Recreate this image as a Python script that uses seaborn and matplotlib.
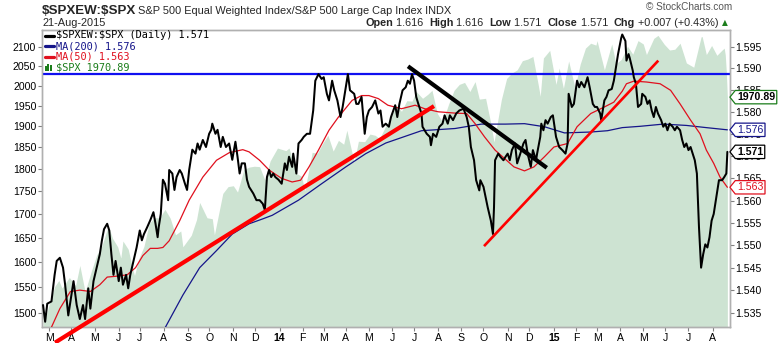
import numpy as np
import matplotlib
matplotlib.use("Agg")
import matplotlib.pyplot as plt
import matplotlib.transforms as mtransforms
import seaborn as sns
from matplotlib.path import Path
from matplotlib.lines import Line2D
from matplotlib.patches import Rectangle
from matplotlib.ticker import FixedLocator, NullLocator, FixedFormatter

sns.set_theme(style="white")
plt.rcParams['font.family'] = ['Liberation Sans', 'DejaVu Sans']

# ---------------- data ----------------
ORIGIN = '2013-02-21'   # session 0 (weekday count from this date)

ratio_session = [
    0, 2, 4, 8, 11, 13, 16, 19, 21, 24,
    27, 29, 32, 35, 38, 40, 43, 45, 48, 51,
    54, 56, 58, 61, 63, 65, 67, 69, 72, 74,
    76, 79, 81, 83, 86, 89, 92, 94, 96, 99,
    102, 105, 107, 109, 110, 112, 114, 116, 119, 120,
    123, 125, 127, 130, 132, 135, 137, 139, 142, 145,
    147, 149, 152, 155, 158, 160, 161, 164, 166, 169,
    171, 174, 177, 180, 183, 185, 187, 189, 192, 194,
    196, 200, 203, 206, 209, 211, 213, 215, 217, 219,
    221, 224, 227, 230, 232, 234, 237, 238, 241, 243,
    246, 248, 251, 254, 257, 259, 262, 265, 267, 270,
    272, 275, 277, 280, 283, 285, 288, 290, 292, 296,
    298, 300, 303, 306, 308, 310, 313, 316, 319, 321,
    323, 326, 329, 331, 335, 337, 339, 342, 345, 347,
    349, 351, 353, 355, 357, 360, 361, 365, 368, 369,
    371, 374, 377, 380, 382, 385, 387, 390, 393, 396,
    400, 403, 405, 407, 410, 412, 415, 416, 419, 421,
    423, 426, 428, 429, 430, 433, 435, 438, 440, 442,
    444, 446, 449, 451, 454, 457, 459, 461, 464, 466,
    469, 470, 473, 474, 476, 478, 480, 483, 485, 488,
    491, 494, 497, 499, 500, 503, 505, 508, 510, 512,
    515, 518, 520, 523, 525, 527, 530, 531, 534, 536,
    538, 541, 543, 545, 547, 550, 551, 554, 555, 557,
    558, 561, 562, 564, 566, 569, 570, 573, 575, 577,
    579, 581, 583, 585, 588, 590, 592, 594, 596, 599,
    601, 603, 606, 608, 610, 612, 614, 616, 618, 620,
    622, 624, 626, 628, 630, 632, 634, 636, 638, 641, 643, 646, 648, 650, 651]
ratio_close = [
    1.5367, 1.5330, 1.5370, 1.5375, 1.5434, 1.5465, 1.5472, 1.5450, 1.5412, 1.5344,
    1.5389, 1.5420, 1.5367, 1.5336, 1.5367, 1.5336, 1.5404, 1.5359, 1.5420, 1.5450,
    1.5480, 1.5511, 1.5536, 1.5548, 1.5533, 1.5480, 1.5434, 1.5465, 1.5420, 1.5450,
    1.5412, 1.5434, 1.5404, 1.5434, 1.5465, 1.5495, 1.5533, 1.5511, 1.5525, 1.5540,
    1.5556, 1.5574, 1.5548, 1.5518, 1.5540, 1.5570, 1.5647, 1.5638, 1.5601, 1.5669,
    1.5661, 1.5624, 1.5653, 1.5669, 1.5661, 1.5638, 1.5624, 1.5669, 1.5715, 1.5706,
    1.5729, 1.5715, 1.5737, 1.5721, 1.5751, 1.5760, 1.5774, 1.5751, 1.5760, 1.5721,
    1.5744, 1.5721, 1.5729, 1.5692, 1.5733, 1.5699, 1.5661, 1.5684, 1.5684, 1.5647,
    1.5631, 1.5616, 1.5601, 1.5601, 1.5593, 1.5579, 1.5653, 1.5669, 1.5653, 1.5661,
    1.5653, 1.5647, 1.5638, 1.5684, 1.5669, 1.5699, 1.5676, 1.5706, 1.5661, 1.5729,
    1.5737, 1.5744, 1.5751, 1.5751, 1.5804, 1.5872, 1.5887, 1.5876, 1.5880, 1.5842,
    1.5827, 1.5872, 1.5850, 1.5827, 1.5789, 1.5812, 1.5857, 1.5887, 1.5850, 1.5842,
    1.5819, 1.5819, 1.5835, 1.5751, 1.5789, 1.5804, 1.5812, 1.5827, 1.5797, 1.5804,
    1.5767, 1.5774, 1.5767, 1.5789, 1.5816, 1.5789, 1.5819, 1.5850, 1.5857, 1.5872,
    1.5865, 1.5887, 1.5872, 1.5835, 1.5819, 1.5797, 1.5767, 1.5751, 1.5744, 1.5725,
    1.5751, 1.5744, 1.5767, 1.5774, 1.5793, 1.5774, 1.5793, 1.5782, 1.5797, 1.5804,
    1.5808, 1.5789, 1.5767, 1.5721, 1.5691, 1.5646, 1.5623, 1.5646, 1.5631, 1.5608,
    1.5585, 1.5555, 1.5525, 1.5585, 1.5691, 1.5706, 1.5699, 1.5691, 1.5699, 1.5706,
    1.5691, 1.5714, 1.5729, 1.5684, 1.5706, 1.5729, 1.5737, 1.5706, 1.5676, 1.5714,
    1.5691, 1.5706, 1.5744, 1.5774, 1.5759, 1.5782, 1.5774, 1.5789, 1.5793, 1.5744,
    1.5721, 1.5714, 1.5706, 1.5729, 1.5842, 1.5812, 1.5819, 1.5872, 1.5857, 1.5869,
    1.5857, 1.5880, 1.5857, 1.5819, 1.5812, 1.5812, 1.5797, 1.5782, 1.5827, 1.5835,
    1.5850, 1.5853, 1.5872, 1.5902, 1.5933, 1.5970, 1.5978, 1.5963, 1.5918, 1.5933,
    1.5925, 1.5895, 1.5880, 1.5865, 1.5812, 1.5819, 1.5842, 1.5835, 1.5819, 1.5827,
    1.5804, 1.5789, 1.5812, 1.5797, 1.5782, 1.5767, 1.5774, 1.5759, 1.5774, 1.5767,
    1.5759, 1.5767, 1.5759, 1.5737, 1.5721, 1.5729, 1.5714, 1.5721, 1.5706, 1.5691,
    1.5661, 1.5540, 1.5450, 1.5480, 1.5502, 1.5495, 1.5518, 1.5555, 1.5570, 1.5616,
    1.5646, 1.5646, 1.5653, 1.5661, 1.5710]

ma200_session = [115, 133, 149, 165, 180, 196, 209, 218, 243, 265,
                 288, 307, 326, 360, 392, 417, 440, 458, 477, 496,
                 521, 537, 551, 568, 590, 612, 631, 651]
ma200_value = [1.5312, 1.5389, 1.5450, 1.5488, 1.5525, 1.5548, 1.5559, 1.5567, 1.5601, 1.5638,
               1.5676, 1.5706, 1.5730, 1.5758, 1.5763, 1.5773, 1.5773, 1.5774, 1.5767, 1.5753,
               1.5755, 1.5758, 1.5765, 1.5768, 1.5773, 1.5770, 1.5765, 1.5760]

ma50_session = [8, 16, 26, 35, 45, 54, 61, 70, 80, 88,
                95, 102, 109, 114, 120, 130, 139, 152, 165, 177,
                190, 196, 206, 215, 220, 227, 237, 245, 253, 262,
                272, 281, 294, 303, 310, 319, 328, 341, 354, 363,
                376, 392, 403, 411, 420, 430, 439, 448, 458, 467,
                477, 486, 499, 508, 521, 534, 543, 551, 555, 562,
                574, 587, 597, 606, 616, 625, 631, 638, 644, 651]
ma50_value = [1.5318, 1.5359, 1.5397, 1.5400, 1.5397, 1.5412, 1.5429, 1.5431, 1.5434, 1.5450,
              1.5477, 1.5493, 1.5493, 1.5495, 1.5510, 1.5555, 1.5601, 1.5653, 1.5691, 1.5708,
              1.5715, 1.5710, 1.5691, 1.5669, 1.5661, 1.5650, 1.5642, 1.5646, 1.5676, 1.5714,
              1.5759, 1.5789, 1.5827, 1.5838, 1.5838, 1.5831, 1.5816, 1.5808, 1.5816, 1.5808,
              1.5801, 1.5798, 1.5797, 1.5774, 1.5744, 1.5714, 1.5695, 1.5676, 1.5667, 1.5676,
              1.5699, 1.5721, 1.5729, 1.5767, 1.5797, 1.5812, 1.5823, 1.5848, 1.5865, 1.5871,
              1.5869, 1.5865, 1.5850, 1.5819, 1.5782, 1.5751, 1.5714, 1.5684, 1.5653, 1.5630]

spx_dates = [
    '2013-02-21', '2013-02-25', '2013-03-01', '2013-03-08', '2013-03-14', '2013-03-19', '2013-03-28', '2013-04-05', '2013-04-11', '2013-04-18',
    '2013-04-26', '2013-05-03', '2013-05-10', '2013-05-17', '2013-05-21', '2013-05-24', '2013-05-31', '2013-06-05', '2013-06-07', '2013-06-14',
    '2013-06-20', '2013-06-24', '2013-06-28', '2013-07-05', '2013-07-12', '2013-07-19', '2013-07-26', '2013-08-02', '2013-08-09', '2013-08-16',
    '2013-08-23', '2013-08-27', '2013-09-06', '2013-09-13', '2013-09-18', '2013-09-27', '2013-10-04', '2013-10-08', '2013-10-18', '2013-10-25',
    '2013-11-01', '2013-11-07', '2013-11-15', '2013-11-22', '2013-11-29', '2013-12-06', '2013-12-13', '2013-12-20', '2013-12-31',
    '2014-01-10', '2014-01-15', '2014-01-24', '2014-01-31', '2014-02-05', '2014-02-14', '2014-02-21', '2014-02-28', '2014-03-07', '2014-03-14',
    '2014-03-21', '2014-03-28', '2014-04-02', '2014-04-11', '2014-04-17', '2014-04-25', '2014-05-02', '2014-05-09', '2014-05-15', '2014-05-23',
    '2014-05-30', '2014-06-06', '2014-06-13', '2014-06-20', '2014-06-27', '2014-07-03', '2014-07-11', '2014-07-18', '2014-07-24', '2014-07-31',
    '2014-08-07', '2014-08-15', '2014-08-22', '2014-08-29', '2014-09-05', '2014-09-12', '2014-09-19', '2014-09-25', '2014-10-03', '2014-10-10',
    '2014-10-15', '2014-10-24', '2014-10-31', '2014-11-07', '2014-11-14', '2014-11-21', '2014-11-28', '2014-12-05', '2014-12-12', '2014-12-16',
    '2014-12-19', '2014-12-29',
    '2015-01-06', '2015-01-09', '2015-01-15', '2015-01-22', '2015-01-30', '2015-02-06', '2015-02-13', '2015-02-20', '2015-02-27', '2015-03-02',
    '2015-03-11', '2015-03-20', '2015-03-26', '2015-04-02', '2015-04-10', '2015-04-17', '2015-04-24', '2015-05-01', '2015-05-06', '2015-05-15',
    '2015-05-21', '2015-05-29', '2015-06-05', '2015-06-12', '2015-06-19', '2015-06-29', '2015-07-08', '2015-07-17', '2015-07-20', '2015-07-24',
    '2015-07-31', '2015-08-07', '2015-08-14', '2015-08-18', '2015-08-19', '2015-08-20', '2015-08-21']
spx_close = [
    1502, 1488, 1518, 1551, 1563, 1548, 1569, 1553, 1593, 1541,
    1582, 1614, 1633, 1667, 1669, 1649, 1631, 1608, 1643, 1626,
    1588, 1573, 1606, 1632, 1680, 1692, 1692, 1710, 1691, 1656,
    1664, 1631, 1655, 1688, 1725, 1692, 1690, 1656, 1745, 1760,
    1762, 1748, 1798, 1804, 1806, 1805, 1775, 1818, 1848,
    1842, 1848, 1790, 1783, 1751, 1838, 1836, 1859, 1878, 1841,
    1866, 1857, 1890, 1815, 1864, 1863, 1881, 1878, 1870, 1900,
    1924, 1950, 1936, 1962, 1961, 1985, 1968, 1978, 1988, 1931,
    1910, 1955, 1988, 2003, 2008, 1985, 2010, 1966, 1968, 1906,
    1862, 1965, 2018, 2032, 2040, 2064, 2068, 2075, 2003, 1973,
    2071, 2091,
    2003, 2045, 1993, 2063, 1995, 2055, 2097, 2110, 2105, 2117,
    2040, 2108, 2056, 2067, 2102, 2081, 2117, 2108, 2080, 2123,
    2131, 2107, 2092, 2094, 2110, 2058, 2047, 2127, 2128, 2080,
    2104, 2078, 2092, 2097, 2079, 2035, 1970.89]

# user-drawn annotation lines (session, ratio) and the horizontal level
trend_start_session = [11.4, 347.2, 419.5]
trend_start_ratio = [1.5284, 1.5905, 1.5498]
trend_end_session = [371.9, 479.2, 585.3]
trend_end_ratio = [1.5814, 1.5674, 1.5918]
trend_colors = ['#ff0000', '#000000', '#ff0000']
trend_widths = [3.0, 3.0, 1.9]
level_ratio = 1.5888

month_dates = ['2013-03-01', '2013-04-01', '2013-05-01', '2013-06-03', '2013-07-01', '2013-08-01',
               '2013-09-03', '2013-10-01', '2013-11-01', '2013-12-02', '2014-01-02', '2014-02-03',
               '2014-03-03', '2014-04-01', '2014-05-01', '2014-06-02', '2014-07-01', '2014-08-01',
               '2014-09-02', '2014-10-01', '2014-11-03', '2014-12-01', '2015-01-02', '2015-02-02',
               '2015-03-02', '2015-04-01', '2015-05-01', '2015-06-01', '2015-07-01', '2015-08-03']
month_labels = ['M', 'A', 'M', 'J', 'J', 'A', 'S', 'O', 'N', 'D', '14', 'F',
                'M', 'A', 'M', 'J', 'J', 'A', 'S', 'O', 'N', 'D', '15', 'F',
                'M', 'A', 'M', 'J', 'J', 'A']

spx_ticks = [1500, 1550, 1600, 1650, 1700, 1750, 1800, 1850, 1900, 1950, 2000, 2050, 2100]
ratio_ticks = [1.535, 1.540, 1.545, 1.550, 1.555, 1.560, 1.565, 1.570, 1.575, 1.580, 1.585, 1.590, 1.595]

legend_labels = [r'\$SPXEW:\$SPX (Daily) 1.571', 'MA(200) 1.576', 'MA(50) 1.563', r'\$SPX 1970.89']

# ---------------- figure ----------------
W, H = 778, 343
fig = plt.figure(figsize=(W / 100, H / 100), dpi=100)
fig.patch.set_facecolor('white')
ax = fig.add_axes([42 / W, 1 - 327 / H, (730 - 42) / W, (327 - 30) / H])
ax2 = ax.twinx()

GREEN_FILL = '#cde3d2'
NAVY = '#15158a'
RED = '#e0101e'
DKGREEN = '#1b7d1b'
SPINE = '#b0b0b0'


def fx(px):
    return px / W


def fy(py):
    return 1 - py / H


# SPX area (left log axis)
spx_x = np.busday_count(ORIGIN, np.array(spx_dates, dtype='datetime64[D]'))
ax.fill_between(spx_x, spx_close, 1400, color=GREEN_FILL, lw=0, zorder=1)
ax.set_yscale('log')
ax.set_ylim(1473.7, 2145.6)
ax.set_xlim(-1, 653.5)

# ratio lines (right log axis)
ax2.set_yscale('log')
ax2.axhline(level_ratio, color='#1010f0', lw=1.6, zorder=2)
sns.lineplot(x=ma200_session, y=ma200_value, ax=ax2, color=NAVY, lw=0.9, estimator=None, sort=False, zorder=3)
sns.lineplot(x=ma50_session, y=ma50_value, ax=ax2, color=RED, lw=0.9, estimator=None, sort=False, zorder=3)
sns.lineplot(x=ratio_session, y=ratio_close, ax=ax2, color='black', lw=1.45, estimator=None, sort=False, zorder=4)
for xs, ys, xe, ye, c, w in zip(trend_start_session, trend_start_ratio, trend_end_session,
                                trend_end_ratio, trend_colors, trend_widths):
    ax2.plot([xs, xe], [ys, ye], color=c, lw=w, solid_capstyle='butt', clip_on=False, zorder=5)
ax2.set_ylim(1.53184, 1.59884)
ax2.set_xlim(-1, 653.5)

# ticks
for a in (ax, ax2):
    a.yaxis.set_minor_locator(NullLocator())
    for s in a.spines.values():
        s.set_color(SPINE)
        s.set_linewidth(1.0)
ax.yaxis.set_major_locator(FixedLocator(spx_ticks))
ax.yaxis.set_major_formatter(FixedFormatter([str(v) for v in spx_ticks]))
ax2.yaxis.set_major_locator(FixedLocator(ratio_ticks))
ax2.yaxis.set_major_formatter(FixedFormatter(['%.3f' % v for v in ratio_ticks]))
ax.tick_params(axis='y', which='major', left=True, right=False, length=3, width=0.8,
               color='#808080', pad=1.2, labelsize=7.6, labelcolor='black')
ax2.tick_params(axis='y', which='major', right=True, left=False, length=3, width=0.8,
                color='#808080', pad=1.0, labelsize=7.6, labelcolor='black')
month_x = np.busday_count(ORIGIN, np.array(month_dates, dtype='datetime64[D]'))
ax.set_xticks(month_x)
ax.set_xticklabels(month_labels)
ax.tick_params(axis='x', bottom=True, length=3, width=0.8, color='#808080', pad=1.0,
               labelsize=7.6, labelcolor='black')
for t in ax.get_xticklabels():
    if t.get_text() in ('14', '15'):
        t.set_fontweight('bold')
for a in (ax, ax2):
    a.set_xlabel('')
    a.set_ylabel('')
    a.grid(False)

# legend (top-left, StockCharts style)
legend_colors = ['black', NAVY, RED, DKGREEN]
for i, (lab, col) in enumerate(zip(legend_labels, legend_colors)):
    yc = 35.5 + i * 10.7
    if i < 3:
        fig.add_artist(Line2D([fx(44.5), fx(53.5)], [fy(yc), fy(yc)], color=col, lw=2.3,
                              transform=fig.transFigure, zorder=20))
    else:
        for bx, bh in zip([44.5, 47.3, 50.1], [5.0, 7.5, 6.0]):
            fig.add_artist(Rectangle((fx(bx), fy(yc + 3.5)), 2.2 / W, bh / H, color=col,
                                     transform=fig.transFigure, zorder=20, lw=0))
    fig.text(fx(56), fy(yc), lab, color=col, fontsize=7.4, family='DejaVu Sans Mono',
             va='center', ha='left', zorder=21)

# value tags on the right
def tag_shape(x0, y0, width, height, mutation_scale):
    p = 0.16 * mutation_scale
    x0 -= p
    y0 -= p
    width += 2 * p
    height += 2 * p
    tip = height * 0.4
    verts = [(x0, y0), (x0 + width, y0), (x0 + width, y0 + height), (x0, y0 + height),
             (x0 - tip, y0 + height / 2), (x0, y0)]
    codes = [Path.MOVETO] + [Path.LINETO] * 4 + [Path.CLOSEPOLY]
    return Path(verts, codes)


spx_tr = mtransforms.blended_transform_factory(ax2.transAxes, ax.transData)
ratio_tr = mtransforms.blended_transform_factory(ax2.transAxes, ax2.transData)
tags = [(spx_tr, spx_close[-1], '1970.89', DKGREEN, 'black', 'bold'),
        (ratio_tr, ma200_value[-1], '1.576', NAVY, NAVY, 'normal'),
        (ratio_tr, ratio_close[-1], '1.571', 'black', 'black', 'bold'),
        (ratio_tr, ma50_value[-1], '1.563', RED, RED, 'normal')]
for tr, val, txt, ec, tc, fw in tags:
    ax2.annotate(txt, xy=(1.0, val), xycoords=tr, xytext=(5.0, 0), textcoords='offset points',
                 ha='left', va='center', fontsize=7.6, fontweight=fw, color=tc,
                 bbox=dict(boxstyle=tag_shape, fc='white', ec=ec, lw=0.9),
                 annotation_clip=False, zorder=30)

# header
fig.text(fx(42), fy(14), r'\$SPXEW:\$SPX', fontsize=9.6, fontweight='bold', va='baseline', ha='left')
fig.text(fx(138), fy(14), 'S&P 500 Equal Weighted Index/S&P 500 Large Cap Index INDX',
         fontsize=7.9, va='baseline', ha='left')
fig.text(fx(42.5), fy(26.5), '21-Aug-2015', fontsize=7.9, va='baseline', ha='left')
fig.text(fx(732), fy(10), '\u00a9 StockCharts.com', fontsize=7.2, va='baseline', ha='right',
         color='#555555')

parts = [('Open', 'bold'), (' 1.616  ', 'normal'), ('High', 'bold'), (' 1.616  ', 'normal'),
         ('Low', 'bold'), (' 1.571  ', 'normal'), ('Close', 'bold'), (' 1.571  ', 'normal'),
         ('Chg', 'bold'), (' +0.007 (+0.43%) ', 'normal')]
prev = fig.text(fx(365), fy(28.5), parts[0][0], fontsize=7.8, fontweight=parts[0][1],
                va='bottom', ha='left')
for txt, fw in parts[1:]:
    prev = ax.annotate(txt, xy=(1, 0), xycoords=prev, xytext=(0, 0),
                       textcoords='offset points', fontsize=7.8,
                       fontweight=fw, va='bottom', ha='left', annotation_clip=False)
ax.annotate('\u25b2', xy=(1, 0.15), xycoords=prev, fontsize=5.5, color='#1b7d1b', va='bottom',
            ha='left', family='DejaVu Sans', annotation_clip=False)

fig.savefig('out.png', dpi=100, facecolor='white')
